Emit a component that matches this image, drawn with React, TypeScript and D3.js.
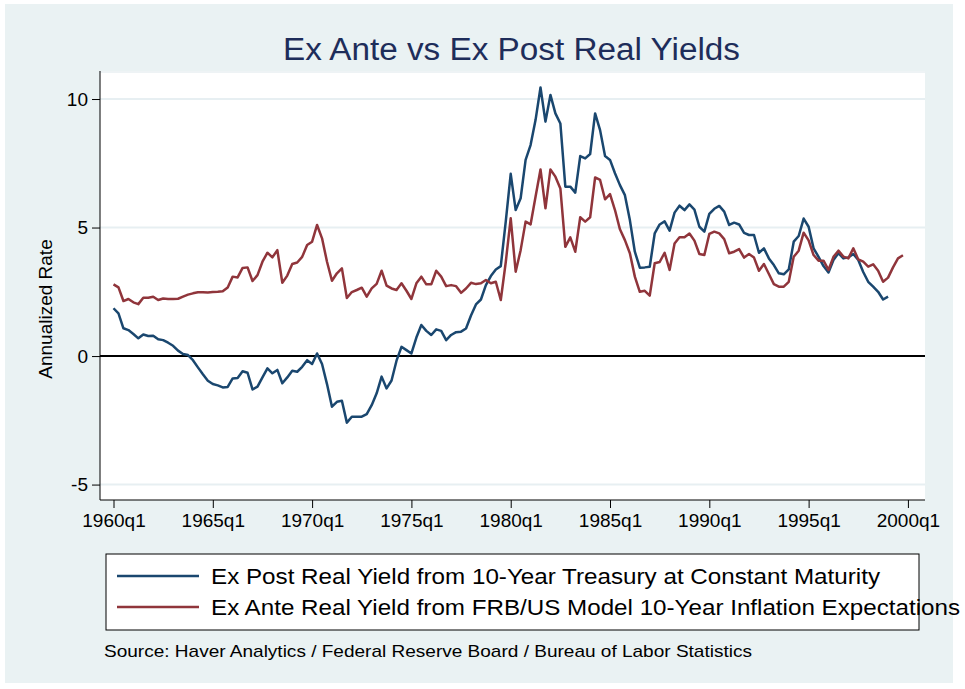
import { useEffect, useRef } from "react";
import * as d3 from "d3";

// quarterly series, first value is 1960q1
const startYear = 1960;

const exPost: number[] = [
  1.86, 1.66, 1.08, 1.01, 0.86, 0.69, 0.84, 0.78, 0.79, 0.65, 0.62, 0.52, 0.4, 0.21, 0.08, 0.04,
  -0.16, -0.44, -0.71, -0.96, -1.09, -1.14, -1.22, -1.2, -0.87, -0.85, -0.59, -0.65, -1.3, -1.19, -0.83, -0.48,
  -0.67, -0.54, -1.06, -0.83, -0.57, -0.61, -0.42, -0.16, -0.31, 0.1, -0.31, -1.09, -1.97, -1.78, -1.74, -2.59,
  -2.36, -2.36, -2.36, -2.26, -1.91, -1.45, -0.8, -1.26, -0.95, -0.18, 0.36, 0.23, 0.1, 0.72, 1.21, 0.98,
  0.82, 1.04, 0.98, 0.62, 0.82, 0.93, 0.95, 1.07, 1.58, 2.01, 2.2, 2.76, 3.11, 3.37, 3.5, 5.23,
  7.09, 5.68, 6.14, 7.63, 8.21, 9.18, 10.45, 9.12, 10.16, 9.44, 9.05, 6.59, 6.59, 6.36, 7.78, 7.69,
  7.86, 9.44, 8.79, 7.78, 7.63, 7.11, 6.65, 6.26, 5.29, 4.06, 3.44, 3.45, 3.47, 4.77, 5.12, 5.24,
  4.88, 5.58, 5.85, 5.68, 5.9, 5.7, 5.03, 4.84, 5.53, 5.73, 5.84, 5.62, 5.1, 5.19, 5.12, 4.79,
  4.71, 4.71, 4.02, 4.19, 3.8, 3.54, 3.22, 3.18, 3.37, 4.45, 4.67, 5.35, 5.03, 4.19, 3.86, 3.5,
  3.25, 3.74, 4.0, 3.8, 3.84, 3.97, 3.74, 3.27, 2.89, 2.7, 2.5, 2.2, 2.31,
];

const exAnte: number[] = [
  2.79, 2.67, 2.14, 2.22, 2.09, 2.02, 2.27, 2.27, 2.31, 2.18, 2.24, 2.22, 2.22, 2.23, 2.31, 2.39,
  2.44, 2.48, 2.48, 2.47, 2.49, 2.5, 2.52, 2.67, 3.09, 3.06, 3.43, 3.45, 2.92, 3.15, 3.67, 4.02,
  3.84, 4.12, 2.85, 3.13, 3.58, 3.64, 3.86, 4.32, 4.45, 5.1, 4.58, 3.67, 2.93, 3.22, 3.41, 2.26,
  2.49, 2.57, 2.66, 2.31, 2.63, 2.81, 3.32, 2.74, 2.63, 2.57, 2.83, 2.54, 2.22, 2.83, 3.09, 2.79,
  2.79, 3.32, 3.09, 2.72, 2.76, 2.72, 2.46, 2.63, 2.85, 2.8, 2.83, 2.96, 2.83, 2.89, 2.18, 3.65,
  5.36, 3.28, 4.12, 5.23, 5.12, 6.2, 7.26, 5.75, 7.26, 6.98, 6.52, 4.25, 4.62, 4.06, 5.4, 5.23,
  5.4, 6.95, 6.85, 6.1, 6.3, 5.68, 4.93, 4.51, 4.0, 3.09, 2.5, 2.54, 2.35, 3.61, 3.66, 4.02,
  3.35, 4.38, 4.62, 4.62, 4.77, 4.49, 3.97, 3.93, 4.75, 4.84, 4.77, 4.55, 4.0, 4.06, 4.16, 3.83,
  3.97, 3.83, 3.32, 3.58, 3.19, 2.8, 2.7, 2.7, 2.89, 3.86, 4.1, 4.8, 4.5, 3.93, 3.71, 3.71,
  3.35, 3.86, 4.1, 3.87, 3.8, 4.19, 3.76, 3.67, 3.48, 3.57, 3.32, 2.89, 3.05, 3.45, 3.8, 3.92,
];

const xTickYears = [1960, 1965, 1970, 1975, 1980, 1985, 1990, 1995, 2000];
const yTicks = [-5, 0, 5, 10];

const seriesNames = [
  "Ex Post Real Yield from 10-Year Treasury at Constant Maturity",
  "Ex Ante Real Yield from FRB/US Model 10-Year Inflation Expectations",
];
const seriesColors = ["#1a476f", "#90353b"];
// rendered width of each legend label (the original text is wider than the box)
const legendTextWidths = [669, 749];

const titleText = "Ex Ante vs Ex Post Real Yields";
const yLabel = "Annualized Rate";
const noteText = "Source:  Haver Analytics / Federal Reserve Board / Bureau of Labor Statistics";

const FONT = "'Liberation Sans', Arial, sans-serif";

const App = () => {
  const svgRef = useRef<SVGSVGElement>(null);

  useEffect(() => {
    const W = 965;
    const H = 689;
    const plot = { left: 100, right: 925, top: 71, bottom: 500 };

    const svg = d3.select(svgRef.current);
    svg.selectAll("*").remove();
    svg.attr("width", W).attr("height", H);

    // page and graph region
    svg.append("rect").attr("width", W).attr("height", H).attr("fill", "#ffffff");
    svg.append("rect")
      .attr("x", 5).attr("y", 4)
      .attr("width", 948).attr("height", 679)
      .attr("fill", "#eaf2f3");
    svg.append("rect")
      .attr("x", plot.left).attr("y", plot.top)
      .attr("width", plot.right - plot.left).attr("height", plot.bottom - plot.top)
      .attr("fill", "#ffffff");

    const x = d3.scaleLinear()
      .domain([1959.32, 2000.86])
      .range([plot.left, plot.right]);
    const y = d3.scaleLinear()
      .domain([-5.6, 11.09])
      .range([plot.bottom, plot.top]);

    const g = svg.append("g");

    // grid
    g.selectAll(".grid")
      .data(yTicks.filter(d => d !== 0))
      .enter().append("line")
      .attr("x1", plot.left).attr("x2", plot.right)
      .attr("y1", d => y(d)).attr("y2", d => y(d))
      .attr("stroke", "#e7eff2")
      .attr("stroke-width", 2);
    g.append("line")
      .attr("x1", plot.left).attr("x2", plot.right)
      .attr("y1", plot.top + 1).attr("y2", plot.top + 1)
      .attr("stroke", "#eef3f5").attr("stroke-width", 2);

    // axes
    const xAxis = d3.axisBottom(x)
      .tickValues(xTickYears)
      .tickSize(8)
      .tickPadding(6)
      .tickFormat(d => `${d}q1`);
    const xg = g.append("g")
      .attr("transform", `translate(0,${plot.bottom})`)
      .call(xAxis);
    xg.select(".domain").remove();
    xg.selectAll("line").attr("stroke", "#000").attr("stroke-width", 1);
    xg.selectAll("text")
      .style("font-family", FONT)
      .style("font-size", "19px")
      .attr("fill", "#000");
    g.append("line")
      .attr("x1", plot.left).attr("x2", plot.right)
      .attr("y1", plot.bottom).attr("y2", plot.bottom)
      .attr("stroke", "#000").attr("stroke-width", 1);

    const yAxis = d3.axisLeft(y)
      .tickValues(yTicks)
      .tickSize(8)
      .tickPadding(4)
      .tickFormat(d => `${d}`);
    const yg = g.append("g")
      .attr("transform", `translate(${plot.left},0)`)
      .call(yAxis);
    yg.select(".domain").remove();
    yg.selectAll("line").attr("stroke", "#000").attr("stroke-width", 1);
    yg.selectAll("text")
      .style("font-family", FONT)
      .style("font-size", "19px")
      .attr("fill", "#000");
    g.append("line")
      .attr("x1", plot.left).attr("x2", plot.left)
      .attr("y1", plot.top).attr("y2", plot.bottom)
      .attr("stroke", "#000").attr("stroke-width", 1);

    // zero line
    g.append("line")
      .attr("x1", plot.left).attr("x2", plot.right)
      .attr("y1", y(0)).attr("y2", y(0))
      .attr("stroke", "#000").attr("stroke-width", 2);

    // series
    const line = d3.line<number>()
      .x((d, i) => x(startYear + i / 4))
      .y(d => y(d));

    [exPost, exAnte].forEach((values, i) => {
      g.append("path")
        .datum(values)
        .attr("fill", "none")
        .attr("stroke", seriesColors[i])
        .attr("stroke-width", 2.5)
        .attr("stroke-linejoin", "round")
        .attr("d", line);
    });

    // title
    svg.append("text")
      .attr("x", 283).attr("y", 60)
      .attr("textLength", 457)
      .attr("lengthAdjust", "spacingAndGlyphs")
      .style("font-family", FONT)
      .style("font-size", "31px")
      .attr("fill", "#1e2d5a")
      .text(titleText);

    // y label
    svg.append("text")
      .attr("transform", `translate(52,309) rotate(-90)`)
      .attr("text-anchor", "middle")
      .style("font-family", FONT)
      .style("font-size", "19px")
      .attr("fill", "#000")
      .text(yLabel);

    // legend
    const lg = svg.append("g").attr("transform", "translate(106,554)");
    lg.append("rect")
      .attr("width", 813).attr("height", 76)
      .attr("fill", "#ffffff")
      .attr("stroke", "#000").attr("stroke-width", 1);
    const items = lg.selectAll(".legend")
      .data(seriesNames)
      .enter().append("g")
      .attr("transform", (d, i) => `translate(0,${22 + i * 31})`);
    items.append("line")
      .attr("x1", 11).attr("x2", 93)
      .attr("y1", 0).attr("y2", 0)
      .attr("stroke", (d, i) => seriesColors[i])
      .attr("stroke-width", 2.5);
    items.append("text")
      .attr("x", 105).attr("y", 0)
      .attr("dy", "0.35em")
      .attr("textLength", (d, i) => legendTextWidths[i])
      .attr("lengthAdjust", "spacingAndGlyphs")
      .style("font-family", FONT)
      .style("font-size", "22px")
      .attr("fill", "#000")
      .text(d => d);

    // note
    svg.append("text")
      .attr("x", 104).attr("y", 657)
      .attr("textLength", 648)
      .attr("lengthAdjust", "spacingAndGlyphs")
      .style("font-family", FONT)
      .style("font-size", "17px")
      .attr("fill", "#000")
      .text(noteText);
  }, []);

  return (
    <svg ref={svgRef} style={{ position: "absolute", left: 0, top: 0 }}></svg>
  );
};

export default App;
